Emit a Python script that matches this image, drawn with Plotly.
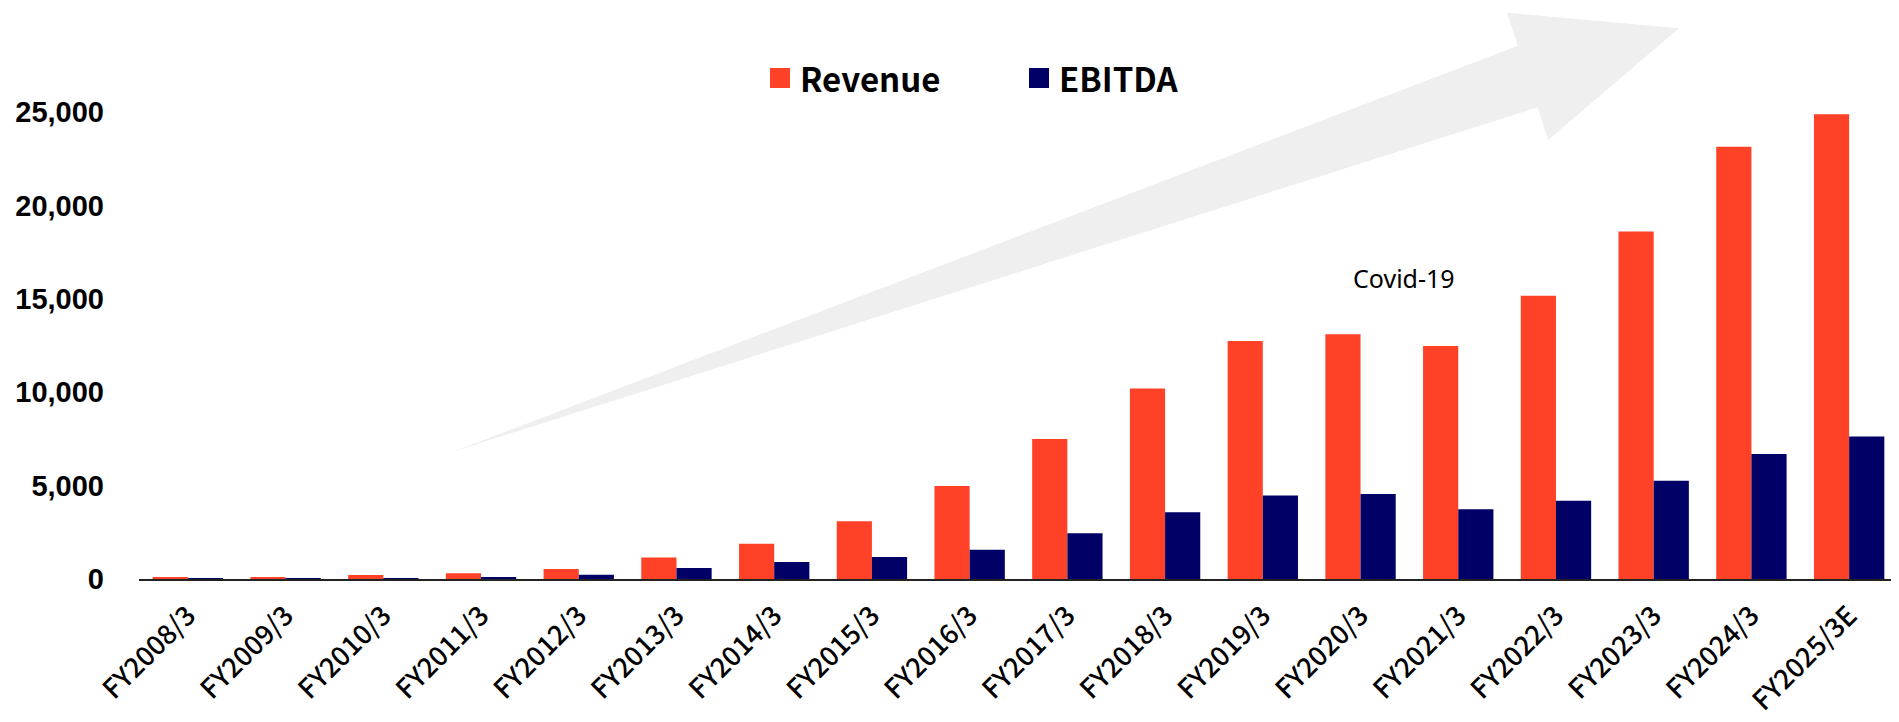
import plotly.graph_objects as go

categories = ["FY2008/3", "FY2009/3", "FY2010/3", "FY2011/3", "FY2012/3", "FY2013/3",
              "FY2014/3", "FY2015/3", "FY2016/3", "FY2017/3", "FY2018/3", "FY2019/3",
              "FY2020/3", "FY2021/3", "FY2022/3", "FY2023/3", "FY2024/3", "FY2025/3E"]
revenue = [80, 100, 210, 310, 530, 1150, 1890, 3090, 4980, 7500, 10210, 12750,
           13110, 12480, 15180, 18620, 23160, 24900]
ebitda = [5, 10, 40, 60, 230, 590, 910, 1180, 1570, 2450, 3570, 4470,
          4560, 3740, 4190, 5270, 6700, 7630]
y_ticks = [0, 5000, 10000, 15000, 20000, 25000]
y_tick_text = ["0", "5,000", "10,000", "15,000", "20,000", "25,000"]

RED = "#FF4127"
NAVY = "#000066"
OFF = 8  # default page body margin
W, H = 1899 - OFF, 722 - OFF
ML, MR, MT, MB = 139 - OFF, 1, 19 - OFF, 143
PW, PH = W - ML - MR, H - MT - MB


def px(x, y):
    """screen pixel -> paper fraction"""
    return (x - OFF - ML) / PW, 1 - (y - OFF - MT) / PH


fig = go.Figure()
fig.add_trace(go.Bar(x=categories, y=revenue, name="Revenue", marker_color=RED,
                     marker_line_width=0, showlegend=False))
fig.add_trace(go.Bar(x=categories, y=ebitda, name="EBITDA", marker_color=NAVY,
                     marker_line_width=0, showlegend=False))

# big grey growth arrow
pts = [px(452, 452), px(1518, 45.7), px(1507, 12.7), px(1679, 28.3),
       px(1548, 140), px(1537.6, 107.3)]
path = "M " + " L ".join(f"{a:.5f},{b:.5f}" for a, b in pts) + " Z"
shapes = [dict(type="path", path=path, xref="paper", yref="paper",
               fillcolor="#EFEFEF", line=dict(width=0), layer="below")]

# legend (manual, top centre)
annotations = []
for (sx0, label), color in zip([(770, "Revenue"), (1029, "EBITDA")], [RED, NAVY]):
    x0, y0 = px(sx0, 88)
    x1, y1 = px(sx0 + 20, 68)
    shapes.append(dict(type="rect", xref="paper", yref="paper", x0=x0, x1=x1,
                       y0=y0, y1=y1, fillcolor=color, line=dict(width=0)))
    tx, ty = px(sx0 + 28, 78)
    annotations.append(dict(text=label, xref="paper", yref="paper", x=tx, y=ty,
                            xanchor="left", yanchor="middle", showarrow=False,
                            font=dict(family="Noto Sans CJK JP", size=33,
                                      color="black", weight="bold")))

cx, _ = px(1404, 277)
annotations.append(dict(text="Covid-19", xref="paper", yref="y", x=cx, y=16100,
                        xanchor="center", yanchor="middle", showarrow=False,
                        font=dict(family="Noto Sans", size=25, color="black")))

fig.update_layout(
    width=W, height=H,
    margin=dict(l=ML, r=MR, t=MT, b=MB, pad=0, autoexpand=False),
    paper_bgcolor="white", plot_bgcolor="white",
    barmode="group", bargap=0.28, bargroupgap=0,
    shapes=shapes, annotations=annotations,
    xaxis=dict(showgrid=False, showline=True, linecolor="#222222", linewidth=2,
               ticks="", tickangle=-45, ticklabelstandoff=8, automargin=False,
               tickfont=dict(family="Noto Sans CJK JP", size=27, color="black",
                             weight=500)),
    yaxis=dict(range=[0, 30000], showgrid=False, zeroline=False, showline=False,
               tickvals=y_ticks, ticktext=y_tick_text, ticks="",
               ticklabelstandoff=34, automargin=False,
               tickfont=dict(family="Liberation Sans", size=29, color="black",
                             weight="bold")),
)

fig.write_html("out.html")
